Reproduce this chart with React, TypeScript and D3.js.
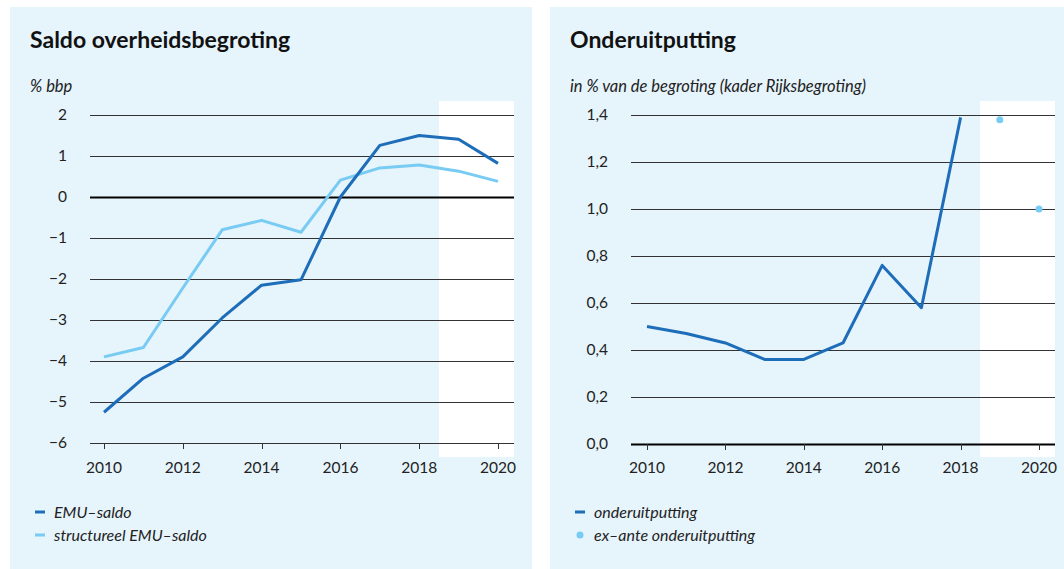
import * as d3 from "d3"

// data
const years = [2010, 2011, 2012, 2013, 2014, 2015, 2016, 2017, 2018, 2019, 2020]
const emuSaldo = [-5.25, -4.42, -3.9, -2.95, -2.15, -2.02, 0.0, 1.26, 1.5, 1.41, 0.82]
const structureelSaldo = [-3.9, -3.67, -2.22, -0.8, -0.57, -0.86, 0.41, 0.71, 0.78, 0.63, 0.38]
const leftTicks = [2, 1, 0, -1, -2, -3, -4, -5, -6]

const onderYears = [2010, 2011, 2012, 2013, 2014, 2015, 2016, 2017, 2018]
const onderuitputting = [0.5, 0.47, 0.43, 0.36, 0.36, 0.43, 0.76, 0.58, 1.39]
const exAnteYears = [2019, 2020]
const exAnte = [1.38, 1.0]
const rightTicks = [1.4, 1.2, 1.0, 0.8, 0.6, 0.4, 0.2, 0.0]

const yearTicks = [2010, 2012, 2014, 2016, 2018, 2020]

const DARK = "#1d6db9"
const LIGHT = "#78cbf2"
const BG = "#e6f4fc"
const FONT = "Lato, 'Open Sans', sans-serif"

function Panel({
  x0, title, unit, xRange, yDomain, yRange, ticks, tickFmt, gridX, forecastX, children, legend,
}: any) {
  const x = d3.scaleLinear().domain([2010, 2020]).range(xRange)
  const y = d3.scaleLinear().domain(yDomain).range(yRange)
  const baseY = y(yDomain[0])
  return (
    <g>
      <rect x={x0} y={7} width={x0 === 10 ? 522 : 514} height={562} fill={BG} />
      <text x={x0 + 20} y={48} fontSize={23} fontWeight="bold" fill="#111">{title}</text>
      <text x={x0 + 20} y={92} fontSize={16.5} fontStyle="italic" fill="#222">{unit}</text>
      <rect x={forecastX[0]} y={101} width={forecastX[1] - forecastX[0]} height={356} fill="#fff" />
      {ticks.map((t: number) => (
        <g key={t}>
          <line x1={gridX[0]} x2={gridX[1]} y1={Math.round(y(t)) + 0.5} y2={Math.round(y(t)) + 0.5}
            stroke={t === 0 ? "#000" : "#333"} strokeWidth={t === 0 ? 2 : 1} />
          <text x={gridX[0] - 23} y={y(t)} dy="0.35em" textAnchor="end" fontSize={15.5} fill="#222">
            {tickFmt(t)}
          </text>
        </g>
      ))}
      {yearTicks.map((yr) => (
        <g key={yr}>
          <line x1={Math.round(x(yr)) + 0.5} x2={Math.round(x(yr)) + 0.5} y1={baseY} y2={baseY + 6} stroke="#333" strokeWidth={1} />
          <text x={x(yr)} y={468} dy="0.35em" textAnchor="middle" fontSize={15.5} fill="#222">{yr}</text>
        </g>
      ))}
      {children(x, y)}
      {legend.map((l: any, i: number) => (
        <g key={l.label}>
          {l.type === "line" ? (
            <line x1={x0 + 25} x2={x0 + 35} y1={512 + i * 23} y2={512 + i * 23} stroke={l.color} strokeWidth={3} />
          ) : (
            <circle cx={x0 + 30} cy={512 + i * 23} r={3.5} fill={l.color} />
          )}
          <text x={x0 + 44} y={512 + i * 23} dy="0.35em" fontSize={16} fontStyle="italic" fill="#222">
            {l.label}
          </text>
        </g>
      ))}
    </g>
  )
}

export default function App() {
  const line = (xs: number[], vs: number[], x: any, y: any) =>
    d3.line<number>().x((_, i) => x(xs[i])).y((d) => y(d))(vs) || ""

  return (
    <svg width={1064} height={569} style={{ position: "absolute", left: 0, top: 0 }} fontFamily={FONT}>
      <rect width={1064} height={569} fill="#fff" />
      <Panel
        x0={10}
        title="Saldo overheidsbegroting"
        unit="% bbp"
        xRange={[104, 498]}
        yDomain={[-6, 2]}
        yRange={[443, 115]}
        ticks={leftTicks}
        tickFmt={(t: number) => (t < 0 ? `\u2212${Math.abs(t)}` : `${t}`)}
        gridX={[90, 514]}
        forecastX={[439, 514]}
        legend={[
          { type: "line", color: DARK, label: "EMU\u2013saldo" },
          { type: "line", color: LIGHT, label: "structureel EMU\u2013saldo" },
        ]}
      >
        {(x: any, y: any) => (
          <g fill="none" strokeWidth={3} strokeLinejoin="round">
            <path d={line(years, structureelSaldo, x, y)} stroke={LIGHT} />
            <path d={line(years, emuSaldo, x, y)} stroke={DARK} />
          </g>
        )}
      </Panel>
      <Panel
        x0={550}
        title="Onderuitputting"
        unit="in % van de begroting (kader Rijksbegroting)"
        xRange={[647, 1039]}
        yDomain={[0, 1.4]}
        yRange={[444, 115]}
        ticks={rightTicks}
        tickFmt={(t: number) => d3.format(".1f")(t).replace(".", ",")}
        gridX={[631, 1055]}
        forecastX={[980, 1055]}
        legend={[
          { type: "line", color: DARK, label: "onderuitputting" },
          { type: "dot", color: LIGHT, label: "ex\u2013ante onderuitputting" },
        ]}
      >
        {(x: any, y: any) => (
          <g>
            <path d={line(onderYears, onderuitputting, x, y)} fill="none" stroke={DARK} strokeWidth={3} strokeLinejoin="round" />
            {exAnte.map((v, i) => (
              <circle key={i} cx={x(exAnteYears[i])} cy={y(v)} r={3.5} fill={LIGHT} />
            ))}
          </g>
        )}
      </Panel>
    </svg>
  )
}
